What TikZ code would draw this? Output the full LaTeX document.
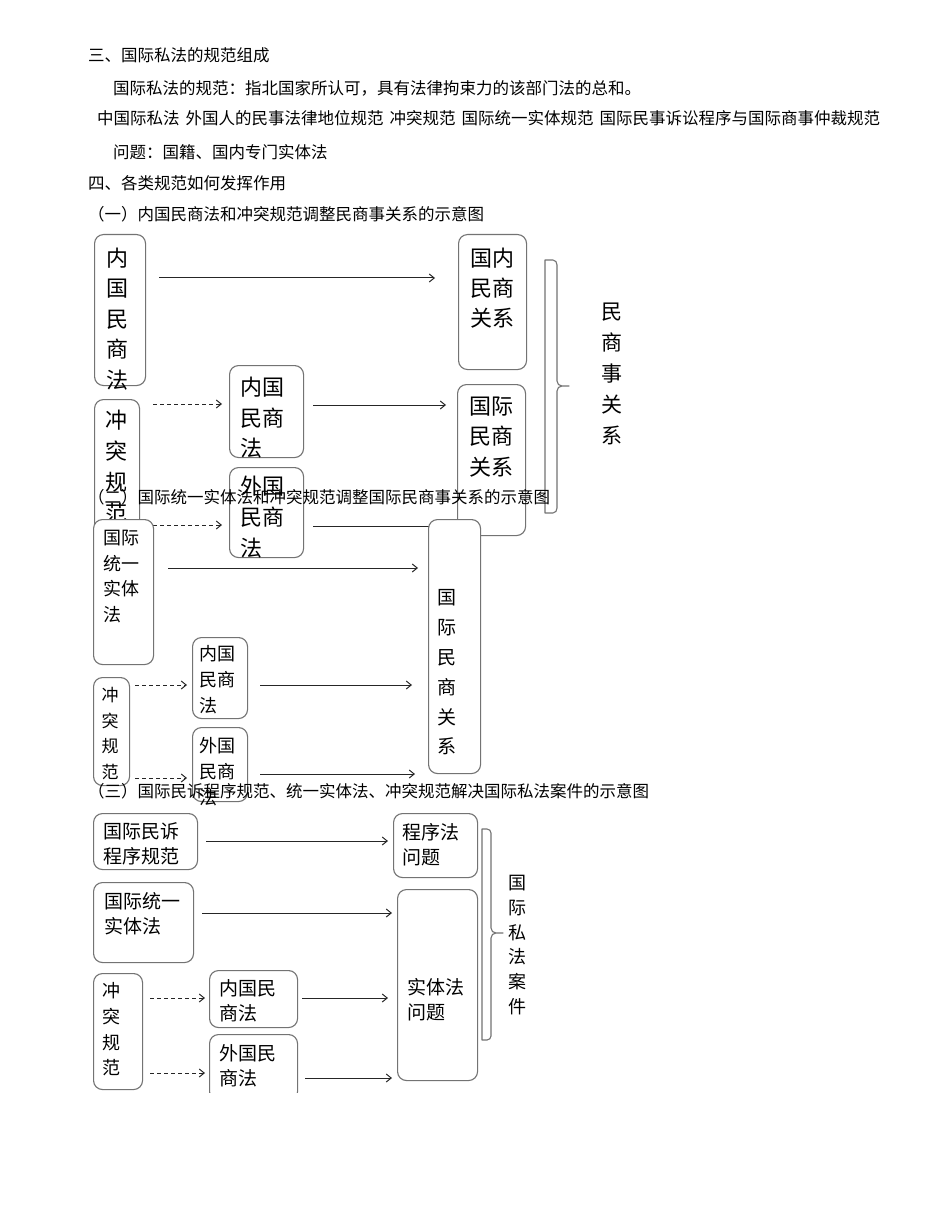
\documentclass[tikz,border=0pt]{standalone}
\usepackage{fontspec}
\setmainfont{Noto Sans CJK SC}
\usetikzlibrary{arrows.meta}
\begin{document}
\begin{tikzpicture}[x=1pt,y=-1pt,
 box/.style={draw=black!55, line width=1.1pt, rounded corners=9pt, fill=white, anchor=north west, inner sep=0pt},
 hd/.style={anchor=west, inner sep=0pt, font=\fontsize{16.5}{20}\selectfont},
 vt/.style={inner sep=0pt, align=center},
 lt/.style={inner sep=0pt, align=left, anchor=west},
 arr/.style={draw=black!85, line width=1pt, -{Straight Barb[length=5pt,width=8pt]}},
 darr/.style={arr, dash pattern=on 4pt off 3pt},
 brc/.style={draw=black!55, line width=1.1pt, line join=round},
]
\fill[white] (0,0) rectangle (950,1230);
\useasboundingbox (0,0) rectangle (950,1230);

% ---------- top text ----------
\node[hd] (t1) at (88,55) {三、国际私法的规范组成};
\node[hd] (t2) at (113,88) {国际私法的规范：指北国家所认可，具有法律拘束力的该部门法的总和。};
\node[hd] (t3) at (97,118) {中国际私法\hspace{6pt}外国人的民事法律地位规范\hspace{6pt}冲突规范\hspace{6pt}国际统一实体规范\hspace{6pt}国际民事诉讼程序与国际商事仲裁规范};
\node[hd] (t4) at (113,152) {问题：国籍、国内专门实体法};
\node[hd] (t5) at (88,183) {四、各类规范如何发挥作用};
\node[hd] (t6) at (88,214) {（一）内国民商法和冲突规范调整民商事关系的示意图};

% ---------- diagram 1 ----------
\node[box, minimum width=51pt, minimum height=151pt] (A) at (94,234) {};
\node[box, minimum width=68pt, minimum height=135pt] (D) at (458,234) {};
\node[box, minimum width=45pt, minimum height=146pt] (B) at (94,399) {};
\node[box, minimum width=74pt, minimum height=92pt] (C) at (229,365) {};
\node[box, minimum width=68pt, minimum height=151pt] (E) at (457,384) {};
\node[box, minimum width=74pt, minimum height=90pt] (F) at (229,467) {};

\node[vt, font=\fontsize{22}{30.5}\selectfont] (At) at (117,319) {内\\国\\民\\商\\法};
\node[vt, font=\fontsize{22}{30}\selectfont] (Dt) at (492,288) {国内\\民商\\关系};
\node[vt, font=\fontsize{22}{31}\selectfont] (Bt) at (116,467) {冲\\突\\规\\范};
\node[lt, font=\fontsize{22}{30.5}\selectfont] (Ct) at (240,418) {内国\\民商\\法};
\node[vt, font=\fontsize{22}{30.5}\selectfont] (Et) at (491,437) {国际\\民商\\关系};
\node[lt, font=\fontsize{22}{31}\selectfont] (Ft) at (240,517) {外国\\民商\\法};
\node[vt, font=\fontsize{21}{31}\selectfont] (R1) at (612,374) {民\\商\\事\\关\\系};

\coordinate (a1s) at (159,278); \coordinate (a1e) at (435,278);
\coordinate (d1s) at (153,404); \coordinate (d1e) at (222,404);
\coordinate (a2s) at (313,405); \coordinate (a2e) at (446,405);
\coordinate (d2s) at (153,525); \coordinate (d2e) at (222,525);
\coordinate (a3s) at (313,526); \coordinate (a3e) at (445,526);
\draw[arr] (a1s) -- (a1e);
\draw[darr] (d1s) -- (d1e);
\draw[arr] (a2s) -- (a2e);
\draw[darr] (d2s) -- (d2e);
\draw[arr] (a3s) -- (a3e);

\draw[brc] (545,260) -- (553,260) to[out=0,in=90] (557,265) -- (557,381)
  to[out=-90,in=180] (562,386) -- (569,386) -- (562,386)
  to[out=180,in=90] (557,391) -- (557,508) to[out=-90,in=0] (553,513) -- (545,513) -- cycle;

% ---------- heading 2 ----------
\node[hd] (h2) at (88,497) {（二）国际统一实体法和冲突规范调整国际民商事关系的示意图};

% ---------- diagram 2 ----------
\node[box, minimum width=60pt, minimum height=145pt] (H) at (93,519) {};
\node[box, minimum width=52pt, minimum height=254pt] (G) at (428,519) {};
\node[box, minimum width=36pt, minimum height=108pt] (I) at (93,677) {};
\node[box, minimum width=55pt, minimum height=81pt] (J) at (192,637) {};
\node[box, minimum width=55pt, minimum height=74pt] (K) at (192,727) {};

\node[lt, font=\fontsize{18}{25.7}\selectfont] (Ht) at (103,576.5) {国际\\统一\\实体\\法};
\node[vt, font=\fontsize{19}{29.8}\selectfont] (Gt) at (447,672.5) {国\\际\\民\\商\\关\\系};
\node[vt, font=\fontsize{17}{25.7}\selectfont] (It) at (110,733.5) {冲\\突\\规\\范};
\node[lt, font=\fontsize{18}{26}\selectfont] (Jt) at (199,680) {内国\\民商\\法};
\node[lt, font=\fontsize{18}{26}\selectfont] (Kt) at (199,772) {外国\\民商\\法};

\coordinate (a4s) at (168,568); \coordinate (a4e) at (418,568);
\coordinate (d3s) at (135,685); \coordinate (d3e) at (187,685);
\coordinate (a5s) at (260,685); \coordinate (a5e) at (412,685);
\coordinate (d4s) at (135,778); \coordinate (d4e) at (187,778);
\coordinate (a6s) at (260,774); \coordinate (a6e) at (415,774);
\draw[arr] (a4s) -- (a4e);
\draw[darr] (d3s) -- (d3e);
\draw[arr] (a5s) -- (a5e);
\draw[darr] (d4s) -- (d4e);
\draw[arr] (a6s) -- (a6e);

% ---------- heading 3 ----------
\node[hd] (h3) at (88,791) {（三）国际民诉程序规范、统一实体法、冲突规范解决国际私法案件的示意图};

% ---------- diagram 3 ----------
\node[box, minimum width=104pt, minimum height=56pt] (L) at (93,813) {};
\node[box, minimum width=84pt, minimum height=64pt] (N) at (393,813) {};
\node[box, minimum width=100pt, minimum height=80pt] (M) at (93,882) {};
\node[box, minimum width=80pt, minimum height=191pt] (O) at (397,889) {};
\node[box, minimum width=49pt, minimum height=116pt] (P) at (93,973) {};
\node[box, minimum width=88pt, minimum height=57pt] (Q) at (209,970) {};
\begin{scope}
\clip (0,0) rectangle (950,1092);
\node[box, minimum width=88pt, minimum height=66pt] (R) at (209,1034) {};
\end{scope}

\node[lt, font=\fontsize{19}{24.5}\selectfont] (Lt) at (103,844) {国际民诉\\程序规范};
\node[lt, font=\fontsize{19}{24.5}\selectfont] (Nt) at (402,844.5) {程序法\\问题};
\node[lt, font=\fontsize{19}{25}\selectfont] (Mt) at (104,914) {国际统一\\实体法};
\node[lt, font=\fontsize{19}{25}\selectfont] (Ot) at (407,999.5) {实体法\\问题};
\node[vt, font=\fontsize{18}{25.7}\selectfont] (Pt) at (111,1029.5) {冲\\突\\规\\范};
\node[lt, font=\fontsize{19}{25}\selectfont] (Qt) at (219,1000.5) {内国民\\商法};
\node[lt, font=\fontsize{19}{25}\selectfont] (Rt) at (219,1065.5) {外国民\\商法};
\node[vt, font=\fontsize{18}{24.8}\selectfont] (R3) at (517,945) {国\\际\\私\\法\\案\\件};

\coordinate (a7s) at (206,841); \coordinate (a7e) at (388,841);
\coordinate (a8s) at (202,913); \coordinate (a8e) at (392,913);
\coordinate (d5s) at (150,998); \coordinate (d5e) at (205,998);
\coordinate (a9s) at (302,998); \coordinate (a9e) at (388,998);
\coordinate (d6s) at (150,1073); \coordinate (d6e) at (205,1073);
\coordinate (a10s) at (305,1078); \coordinate (a10e) at (392,1078);
\draw[arr] (a7s) -- (a7e);
\draw[arr] (a8s) -- (a8e);
\draw[darr] (d5s) -- (d5e);
\draw[arr] (a9s) -- (a9e);
\draw[darr] (d6s) -- (d6e);
\draw[arr] (a10s) -- (a10e);

\draw[brc] (482,829) -- (487,829) to[out=0,in=90] (491,833) -- (491,928)
  to[out=-90,in=180] (496,933) -- (503,933) -- (496,933)
  to[out=180,in=90] (491,938) -- (491,1036) to[out=-90,in=0] (487,1040) -- (482,1040) -- cycle;
\end{tikzpicture}
\end{document}
